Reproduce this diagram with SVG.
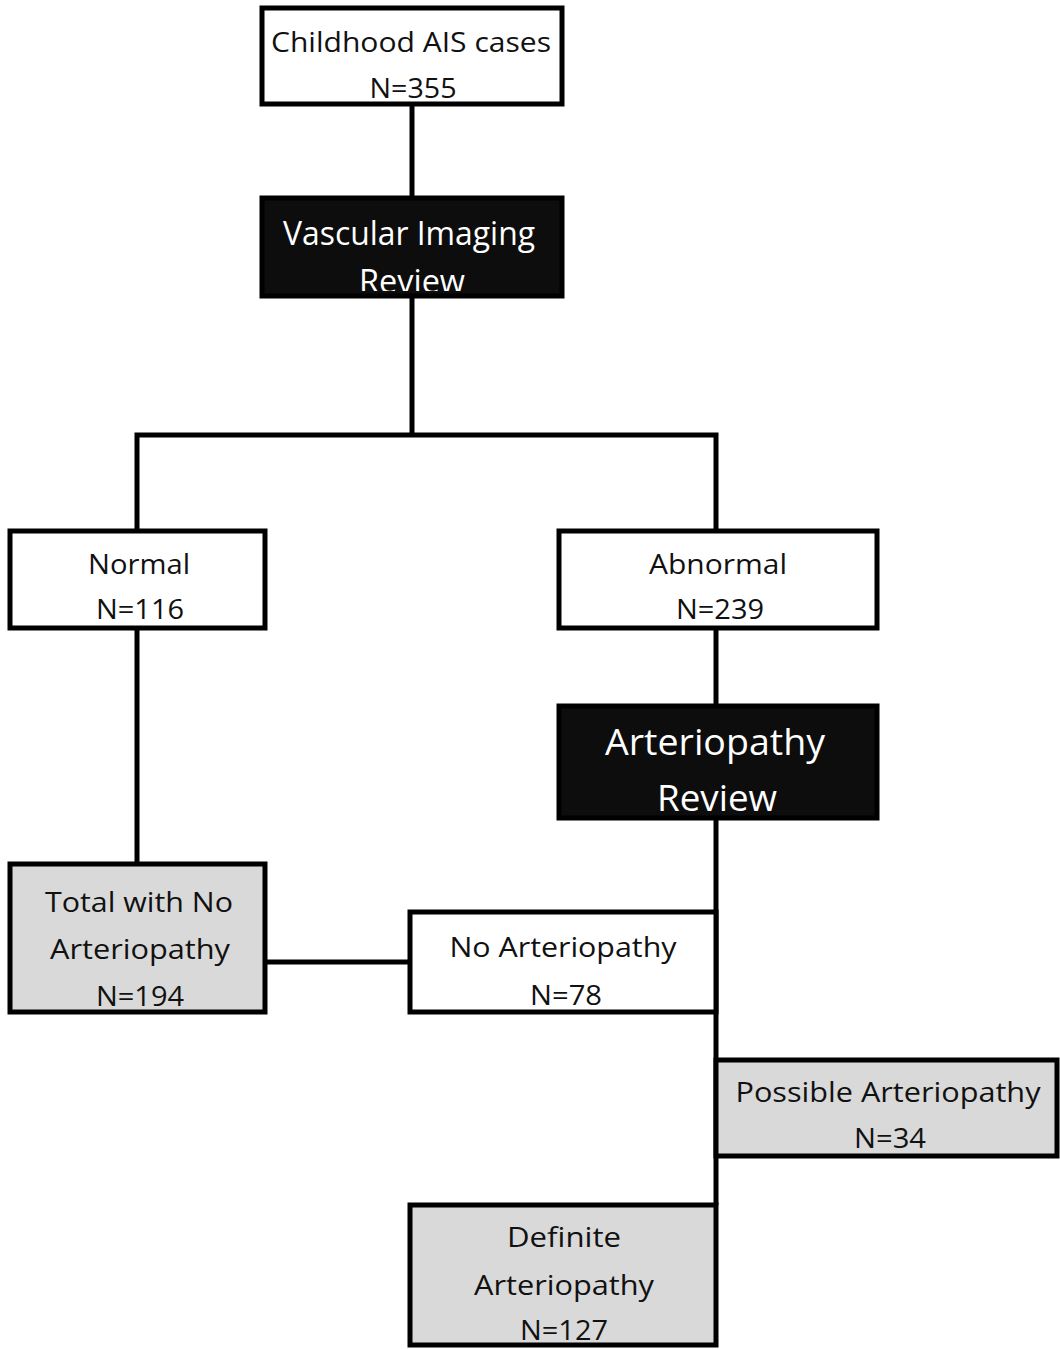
<svg xmlns="http://www.w3.org/2000/svg" width="1060" height="1349" viewBox="0 0 1060 1349">
<style>
.box{stroke:#000;stroke-width:5;}
.w{fill:#fff;}
.k{fill:#0d0d0d;}
.g{fill:#d9d9d9;}
.t{font-family:"Open Sans","Noto Sans",sans-serif;font-size:27px;fill:#111;text-anchor:middle;}
.tw{font-family:"Open Sans","Noto Sans",sans-serif;fill:#fff;text-anchor:middle;}
.ln{stroke:#000;stroke-width:5;fill:none;}
</style>
<defs>
<clipPath id="c1"><rect x="262" y="198" width="300" height="93"/></clipPath>
</defs>
<g id="connectors">
<line class="ln" x1="412" y1="104" x2="412" y2="198"/>
<line class="ln" x1="412" y1="296" x2="412" y2="435"/>
<polyline class="ln" points="137,531 137,435 716,435 716,531"/>
<line class="ln" x1="137" y1="628" x2="137" y2="864"/>
<line class="ln" x1="716" y1="628" x2="716" y2="706"/>
<line class="ln" x1="716" y1="818" x2="716" y2="1205"/>
<line class="ln" x1="265" y1="962" x2="410" y2="962"/>
</g>
<g id="n1">
<rect class="box w" x="262" y="8" width="300" height="96"/>
<text class="t" x="411" y="52" textLength="280" lengthAdjust="spacingAndGlyphs">Childhood AIS cases</text>
<text class="t" x="413" y="98" textLength="87" lengthAdjust="spacingAndGlyphs">N=355</text>
</g>
<g id="n2">
<rect class="box k" x="262" y="198" width="300" height="98"/>
<g clip-path="url(#c1)">
<text class="tw" x="409" y="245" font-size="32" textLength="252" lengthAdjust="spacingAndGlyphs">Vascular Imaging</text>
<text class="tw" x="412" y="293" font-size="32" textLength="106" lengthAdjust="spacingAndGlyphs">Review</text>
</g>
</g>
<g id="n3">
<rect class="box w" x="10" y="531" width="255" height="97"/>
<text class="t" x="139" y="574" textLength="102" lengthAdjust="spacingAndGlyphs">Normal</text>
<text class="t" x="140" y="619" textLength="88" lengthAdjust="spacingAndGlyphs">N=116</text>
</g>
<g id="n4">
<rect class="box w" x="559" y="531" width="318" height="97"/>
<text class="t" x="718" y="574" textLength="138" lengthAdjust="spacingAndGlyphs">Abnormal</text>
<text class="t" x="720" y="619" textLength="88" lengthAdjust="spacingAndGlyphs">N=239</text>
</g>
<g id="n5">
<rect class="box k" x="559" y="706" width="318" height="112"/>
<text class="tw" x="715" y="755" font-size="36" textLength="220" lengthAdjust="spacingAndGlyphs">Arteriopathy</text>
<text class="tw" x="717" y="811" font-size="36" textLength="120" lengthAdjust="spacingAndGlyphs">Review</text>
</g>
<g id="n6">
<rect class="box g" x="10" y="864" width="255" height="148"/>
<text class="t" x="139" y="912" textLength="188" lengthAdjust="spacingAndGlyphs">Total with No</text>
<text class="t" x="140" y="959" textLength="180" lengthAdjust="spacingAndGlyphs">Arteriopathy</text>
<text class="t" x="140" y="1006" textLength="88" lengthAdjust="spacingAndGlyphs">N=194</text>
</g>
<g id="n7">
<rect class="box w" x="410" y="912" width="306" height="100"/>
<text class="t" x="563" y="957" textLength="227" lengthAdjust="spacingAndGlyphs">No Arteriopathy</text>
<text class="t" x="566" y="1005" textLength="72" lengthAdjust="spacingAndGlyphs">N=78</text>
</g>
<g id="n8">
<rect class="box g" x="716" y="1060" width="341" height="96"/>
<text class="t" x="888" y="1102" textLength="305" lengthAdjust="spacingAndGlyphs">Possible Arteriopathy</text>
<text class="t" x="890" y="1148" textLength="72" lengthAdjust="spacingAndGlyphs">N=34</text>
</g>
<g id="n9">
<rect class="box g" x="410" y="1205" width="306" height="140"/>
<text class="t" x="564" y="1247" textLength="114" lengthAdjust="spacingAndGlyphs">Definite</text>
<text class="t" x="564" y="1295" textLength="180" lengthAdjust="spacingAndGlyphs">Arteriopathy</text>
<text class="t" x="564" y="1340" textLength="88" lengthAdjust="spacingAndGlyphs">N=127</text>
</g>
</svg>
